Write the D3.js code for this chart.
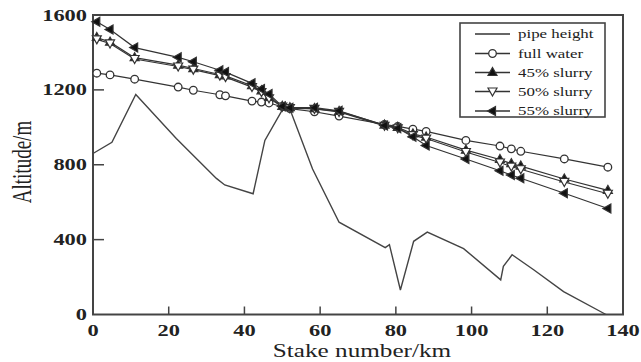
<!DOCTYPE html>
<html>
<head>
<meta charset="utf-8">
<script src="https://cdn.jsdelivr.net/npm/d3@7"></script>
<style>
	body { margin: 0; background: #fff; }
	svg { display: block; }
	text { font-family: "Liberation Serif", "Times New Roman", serif; fill: #222; }
</style>
</head>
<body>
<div id="chart"></div>
<script>
// pipe profile (km, m)
let pipeKm = [0, 5, 11.3, 22, 32.6, 34.8, 42.3, 45.4, 50.5, 52, 58, 65, 77.2, 78.3, 81.2, 84.7, 88.3, 97.9, 107.7, 108.4, 110.7, 116.4, 124.3, 135.5];
let pipeAlt = [860, 920, 1175, 940, 727, 692, 645, 930, 1110, 1098, 777, 493, 357, 373, 131, 391, 440, 352, 185, 257, 319, 239, 122, 0];

// stations where the head lines have markers
let stations = [1, 4.5, 11, 22.5, 26.5, 33.5, 35, 42, 44.5, 46.5, 50, 52, 58.5, 65, 77, 80.5, 84.5, 88, 98.5, 107.5, 110.5, 113, 124.5, 136];
let fullWater = [1289, 1280, 1257, 1215, 1198, 1174, 1168, 1140, 1135, 1130, 1110, 1100, 1083, 1060, 1015, 1005, 990, 978, 930, 900, 885, 872, 831, 787];
let slurry45 = [1480, 1455, 1372, 1332, 1314, 1282, 1275, 1222, 1195, 1160, 1112, 1105, 1100, 1085, 1012, 1000, 965, 948, 878, 828, 806, 793, 724, 663];
let slurry50 = [1470, 1448, 1365, 1325, 1308, 1276, 1268, 1215, 1188, 1155, 1110, 1102, 1098, 1082, 1008, 995, 958, 940, 868, 812, 790, 776, 708, 645];
let slurry55 = [1564, 1523, 1426, 1374, 1350, 1305, 1295, 1235, 1205, 1178, 1112, 1105, 1105, 1088, 1010, 995, 950, 903, 831, 768, 745, 728, 648, 566];

let xTicks = [0, 20, 40, 60, 80, 100, 120, 140];
let yTicks = [0, 400, 800, 1200, 1600];
let legendNames = ["pipe height", "full water", "45% slurry", "50% slurry", "55% slurry"];

let width = 641, height = 362;
let sx = 1.4; // the source picture is stretched sideways

let x = d3.scaleLinear().domain([0, 140]).range([93, 623]);
let y = d3.scaleLinear().domain([0, 1600]).range([314.5, 15]);

let svg = d3.select('#chart').append('svg')
	.attr('width', width)
	.attr('height', height);

let ink = '#333';

// frame
svg.append('rect')
	.attr('x', x(0)).attr('y', y(1600))
	.attr('width', x(140) - x(0)).attr('height', y(0) - y(1600))
	.attr('fill', 'none').attr('stroke', '#444').attr('stroke-width', 2);

// inward ticks
svg.append('g').selectAll('line')
	.data(xTicks.filter(d => d > 0 && d < 140))
	.enter().append('line')
	.attr('x1', d => x(d)).attr('x2', d => x(d))
	.attr('y1', y(0)).attr('y2', y(0) - 8)
	.attr('stroke', '#444').attr('stroke-width', 1.5);

svg.append('g').selectAll('line')
	.data(yTicks.filter(d => d > 0 && d < 1600))
	.enter().append('line')
	.attr('x1', x(0)).attr('x2', x(0) + 11)
	.attr('y1', d => y(d)).attr('y2', d => y(d))
	.attr('stroke', '#444').attr('stroke-width', 1.5);

// tick labels
svg.append('g').selectAll('text')
	.data(xTicks)
	.enter().append('text')
	.attr('transform', d => `translate(${x(d)},336) scale(${sx},1)`)
	.attr('text-anchor', 'middle')
	.style('font-size', '16px').style('font-weight', 'bold')
	.text(d => d);

svg.append('g').selectAll('text')
	.data(yTicks)
	.enter().append('text')
	.attr('transform', d => `translate(87,${y(d) + 5.5}) scale(${sx},1)`)
	.attr('text-anchor', 'end')
	.style('font-size', '16px').style('font-weight', 'bold')
	.text(d => d);

// axis titles
svg.append('text')
	.attr('transform', `translate(362,357) scale(${sx},1)`)
	.attr('text-anchor', 'middle')
	.style('font-size', '18px')
	.text('Stake number/km');

svg.append('text')
	.attr('transform', `translate(31,162) rotate(-90) scale(1,${sx})`)
	.attr('text-anchor', 'middle')
	.style('font-size', '19px')
	.text('Altitude/m');

// marker shapes
function marker(g, kind, cx, cy) {
	if (kind === 'circle') {
		g.append('circle').attr('cx', cx).attr('cy', cy).attr('r', 3.8)
			.attr('fill', '#fff').attr('stroke', ink).attr('stroke-width', 1.3);
	} else {
		let pts;
		if (kind === 'up') pts = [[0, -5], [4.5, 3], [-4.5, 3]];
		if (kind === 'down') pts = [[0, 4.5], [4.5, -3.5], [-4.5, -3.5]];
		if (kind === 'left') pts = [[-5, 0], [3, -4.5], [3, 4.5]];
		g.append('path')
			.attr('d', 'M' + pts.map(p => [cx + p[0], cy + p[1]].join(',')).join('L') + 'Z')
			.attr('fill', kind === 'down' ? '#fff' : '#111')
			.attr('stroke', ink).attr('stroke-width', 1.2);
	}
}

let line = d3.line().x(d => x(d[0])).y(d => y(d[1]));

// pipe height
svg.append('path')
	.datum(pipeKm.map((k, i) => [k, pipeAlt[i]]))
	.attr('d', line)
	.attr('fill', 'none').attr('stroke', '#444').attr('stroke-width', 1.4);

let series = [
	{ values: fullWater, kind: 'circle' },
	{ values: slurry45, kind: 'up' },
	{ values: slurry50, kind: 'down' },
	{ values: slurry55, kind: 'left' }
];

series.forEach(s => {
	let pts = stations.map((k, i) => [k, s.values[i]]);
	svg.append('path')
		.datum(pts)
		.attr('d', line)
		.attr('fill', 'none').attr('stroke', ink).attr('stroke-width', 1.2);
});

series.forEach(s => {
	let g = svg.append('g');
	stations.forEach((k, i) => marker(g, s.kind, x(k), y(s.values[i])));
});

// legend
let lg = svg.append('g');
lg.append('rect')
	.attr('x', 460).attr('y', 23).attr('width', 145).attr('height', 94)
	.attr('fill', '#fff').attr('stroke', '#444').attr('stroke-width', 1.6);

let rowY = [34, 53.5, 72.5, 91.5, 111];
let kinds = [null, 'circle', 'up', 'down', 'left'];
legendNames.forEach((name, i) => {
	lg.append('line')
		.attr('x1', 475).attr('x2', 510)
		.attr('y1', rowY[i]).attr('y2', rowY[i])
		.attr('stroke', ink).attr('stroke-width', 1.3);
	if (kinds[i]) marker(lg, kinds[i], 492.5, rowY[i]);
	lg.append('text')
		.attr('transform', `translate(518,${rowY[i] + 4}) scale(1.3,1)`)
		.style('font-size', '13px')
		.text(name);
});
</script>
</body>
</html>
